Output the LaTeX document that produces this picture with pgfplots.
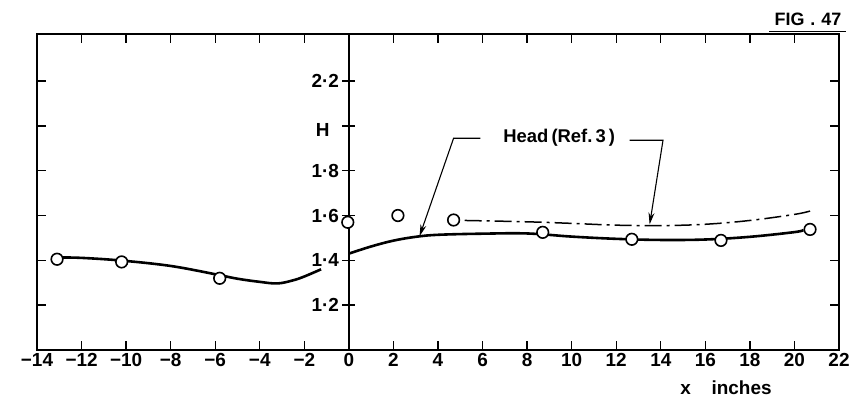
\documentclass[border=0pt]{standalone}
\usepackage{fontspec}
\setmainfont{Liberation Sans}
\usepackage{pgfplots}
\pgfplotsset{compat=1.18}
\usetikzlibrary{arrows.meta}
\newcommand{\tickfont}{\fontsize{19}{22}\selectfont\bfseries}
\begin{document}
\begin{tikzpicture}
\useasboundingbox (0,0) rectangle (864bp,402bp);
% frame axis
\begin{axis}[
  at={(37bp,52bp)}, anchor=south west, scale only axis,
  width=802bp, height=316bp,
  xmin=-14, xmax=22, ymin=1.0, ymax=2.41,
  xtick={-14,-12,...,22},
  xticklabels={−14,−12,−10,−8,−6,−4,−2,0,2,4,6,8,10,12,14,16,18,20,22},
  ytick={1.2,1.4,1.6,1.8,2.0,2.2}, yticklabels={},
  tick align=inside, major tick length=9bp,
  axis line style={line width=1.4bp},
  tick style={line width=1.4bp, black},
  xticklabel style={font=\tickfont},
  xlabel={x\hspace{1.1em}inches},
  xlabel style={font=\tickfont, at={(axis description cs:0.859,-0.12)}, anchor=center},
]
\end{axis}
% centre y axis with data
\begin{axis}[
  at={(37bp,52bp)}, anchor=south west, scale only axis,
  width=802bp, height=316bp,
  xmin=-14, xmax=22, ymin=1.0, ymax=2.41,
  axis x line=none, axis y line=center,
  axis line style={-, line width=1.4bp},
  xtick=\empty,
  ytick={1.2,1.4,1.6,1.8,2.0,2.2},
  yticklabels={1·2,1·4,1·6,1·8,{},2·2},
  tick align=center, major tick length=13bp,
  tick style={line width=1.4bp, black},
  yticklabel style={font=\tickfont},
  clip=false,
]
% solid curve, left part
\addplot[black, line width=2.6bp, smooth, tension=0.6] coordinates {
  (-13.1,1.413) (-12,1.411) (-10.2,1.399) (-8,1.375) (-6,1.338) (-5,1.318)
  (-4,1.304) (-3.2,1.297) (-2.5,1.311) (-2,1.328) (-1.25,1.36)
};
% solid curve, right part
\addplot[black, line width=2.6bp, smooth, tension=0.6] coordinates {
  (0,1.43) (1,1.462) (2,1.488) (3,1.505) (4,1.514) (6,1.519) (8,1.52)
  (10,1.506) (12,1.496) (14,1.491) (16,1.493) (18,1.505) (20,1.526) (20.4,1.535)
};
% dash-dot curve (Head, Ref. 3)
\addplot[black, line width=1.5bp, smooth, tension=0.6,
  dash pattern=on 17bp off 5bp on 3bp off 5bp] coordinates {
  (5.2,1.578) (8,1.572) (10,1.565) (12,1.557) (14,1.555) (16,1.561)
  (18,1.578) (20,1.605) (20.7,1.62)
};
% measured points
\addplot[only marks, mark=*, mark size=5.8bp,
  mark options={fill=white, draw=black, line width=1.6bp}] coordinates {
  (-13.1,1.405) (-10.2,1.393) (-5.8,1.32) (-0.05,1.57) (2.2,1.60)
  (4.7,1.58) (8.7,1.525) (12.7,1.494) (16.7,1.489) (20.7,1.538)
};
% annotation
\node[font=\fontsize{18.5}{22}\selectfont\bfseries] at (axis cs:9.44,1.945) {Head\,(Ref.\,3\,)};
\draw[line width=1.1bp, -{Stealth[length=12bp,width=6bp]}]
  (axis cs:5.9,1.945) -- (axis cs:4.7,1.945) -- (axis cs:3.17,1.507);
\draw[line width=1.1bp, -{Stealth[length=12bp,width=6bp]}]
  (axis cs:12.6,1.936) -- (axis cs:14.1,1.936) -- (axis cs:13.5,1.56);
\node[font=\tickfont] at (axis cs:-1.17,1.98) {H};
\end{axis}
\node[font=\fontsize{18}{21}\selectfont\bfseries] at (808bp,383bp) {FIG\,\,.\,\,47};
\draw[line width=1.6bp] (769bp,370.5bp) -- (846bp,370.5bp);
\end{tikzpicture}
\end{document}
